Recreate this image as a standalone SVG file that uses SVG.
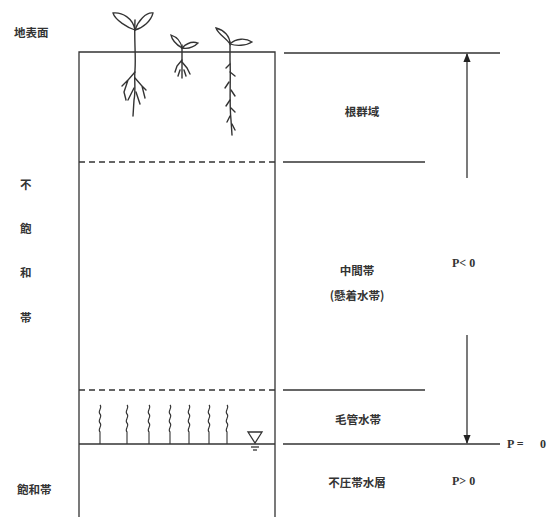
<svg xmlns="http://www.w3.org/2000/svg" width="547" height="517" viewBox="0 0 547 517">
<style>
.ln{stroke:#333;stroke-width:1.3;fill:none}
.dash{stroke:#333;stroke-width:1.3;stroke-dasharray:6,4;fill:none}
.t{font-family:"Noto Sans CJK JP","Noto Sans CJK SC",sans-serif;font-size:11.5px;font-weight:bold;fill:#333}
.p{font-family:"Liberation Serif",serif;font-size:12px;font-weight:bold;fill:#333}
.plant{stroke:#333;stroke-width:1.4;fill:none;stroke-linecap:round}
.leaf{stroke:#333;stroke-width:1.3;fill:#fff}
.cap{stroke:#333;stroke-width:1.1;fill:none}
</style>
<defs>
<marker id="ah" viewBox="0 0 10 10" refX="9" refY="5" markerWidth="7" markerHeight="7" orient="auto-start-reverse">
<path d="M0,1 L10,5 L0,9 z" fill="#222"/>
</marker>
</defs>
<rect width="547" height="517" fill="#fff"/>

<!-- soil column -->
<g id="column">
<path class="ln" d="M79,517 V52 H275 V517"/>
<line class="dash" x1="79" y1="162" x2="275" y2="162"/>
<line class="dash" x1="79" y1="390" x2="275" y2="390"/>
<line class="ln" x1="79" y1="444" x2="275" y2="444"/>
</g>

<!-- plants -->
<g id="plants">
<g id="plant1">
<path class="plant" d="M135,20 C134,40 136,55 135,70 C134,80 136,90 134,100 L133,116"/>
<path class="plant" d="M135,72 L128,80 L124,92 M128,80 L122,86 M135,78 L142,86 L145,98 M142,86 L146,90 M134,88 L128,100 M136,92 L140,104 M124,92 L126,100"/>
<path class="leaf" d="M135,30 C128,28 115,20 113,13 C122,12 133,18 135,30 z"/>
<path class="leaf" d="M135,30 C138,21 146,12 153,13 C151,21 143,28 135,30 z"/>
</g>
<g id="plant2">
<path class="plant" d="M182,45 L182,62 L182,78"/>
<path class="plant" d="M182,60 L177,66 L175,72 M182,62 L187,68 L190,74 M180,70 L178,76 M184,70 L186,76"/>
<path class="leaf" d="M182,48 C177,45 172,40 171,35 C177,37 181,42 182,48 z"/>
<path class="leaf" d="M182,48 C186,44 192,41 198,43 C194,47 188,49 182,48 z"/>
</g>
<g id="plant3">
<path class="plant" d="M230,42 L230,60 C231,80 229,100 231,120 L232,135"/>
<path class="plant" d="M230,64 L226,68 M230,72 L235,76 M229,82 L225,88 M231,90 L235,96 M230,100 L226,106 M231,108 L235,112 M230,116 L227,122 M232,124 L235,130"/>
<path class="leaf" d="M230,44 C226,38 218,34 216,28 C224,30 230,36 230,44 z"/>
<path class="leaf" d="M230,44 C236,38 246,38 252,42 C246,46 236,46 230,44 z"/>
</g>
</g>

<!-- capillary fringe -->
<g id="capillary">
<path class="cap" d="M100,405 c3,3 -3,6 0,9 c3,3 -3,6 0,9 c3,3 -3,6 0,9 v12"/>
<path class="cap" d="M127,405 c3,3 -3,6 0,9 c3,3 -3,6 0,9 c3,3 -3,6 0,9 v12"/>
<path class="cap" d="M149,405 c3,3 -3,6 0,9 c3,3 -3,6 0,9 c3,3 -3,6 0,9 v12"/>
<path class="cap" d="M170,405 c3,3 -3,6 0,9 c3,3 -3,6 0,9 c3,3 -3,6 0,9 v12"/>
<path class="cap" d="M189,405 c3,3 -3,6 0,9 c3,3 -3,6 0,9 c3,3 -3,6 0,9 v12"/>
<path class="cap" d="M209,405 c3,3 -3,6 0,9 c3,3 -3,6 0,9 c3,3 -3,6 0,9 v12"/>
<path class="cap" d="M227,405 c3,3 -3,6 0,9 c3,3 -3,6 0,9 c3,3 -3,6 0,9 v12"/>
</g>

<!-- water table symbol -->
<g id="water-table">
<path d="M248,432 H262 L255,443 z" fill="#fff" stroke="#333" stroke-width="1.3"/>
<line class="ln" x1="251" y1="447" x2="259" y2="447"/>
<line class="ln" x1="253" y1="450" x2="257" y2="450"/>
</g>

<!-- zone boundaries on the right -->
<g id="connectors">
<line class="ln" x1="284" y1="53" x2="500" y2="53"/>
<line class="ln" x1="283" y1="162" x2="425" y2="162"/>
<line class="ln" x1="283" y1="390" x2="425" y2="390"/>
<line class="ln" x1="283" y1="444" x2="500" y2="444"/>
<line class="ln" x1="467" y1="178" x2="467" y2="54" marker-end="url(#ah)"/>
<line class="ln" x1="467" y1="335" x2="467" y2="443" marker-end="url(#ah)"/>
</g>

<!-- labels -->
<g id="labels">
<text class="t" x="14" y="37">地表面</text>
<text class="t" x="362" y="116" text-anchor="middle">根群域</text>
<text class="t" x="20" y="189">不</text>
<text class="t" x="20" y="233">飽</text>
<text class="t" x="20" y="277">和</text>
<text class="t" x="20" y="322">帯</text>
<text class="t" x="357" y="275" text-anchor="middle">中間帯</text>
<text class="t" x="357" y="300" text-anchor="middle">(懸着水帯)</text>
<text class="p" x="452" y="267">P&lt; 0</text>
<text class="t" x="358" y="424" text-anchor="middle">毛管水帯</text>
<text class="p" x="507" y="448">P =</text>
<text class="p" x="540" y="448">0</text>
<text class="t" x="357" y="487" text-anchor="middle">不圧帯水層</text>
<text class="p" x="452" y="485">P&gt; 0</text>
<text class="t" x="17" y="494">飽和帯</text>
</g>
</svg>
